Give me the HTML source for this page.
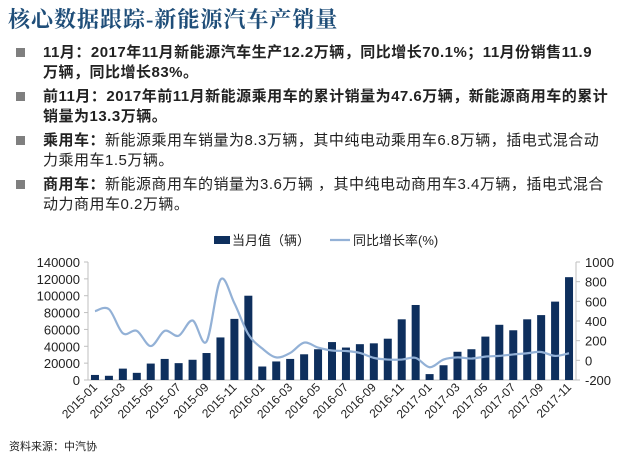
<!DOCTYPE html>
<html><head><meta charset="utf-8">
<style>
body{margin:0;width:640px;height:461px;background:#fff;overflow:hidden;font-family:"Liberation Sans","Noto Sans CJK SC",sans-serif;}
#title{position:absolute;left:8px;top:3px;font-size:22px;font-weight:bold;color:#1f4e79;font-family:"Liberation Serif","Noto Serif CJK SC",serif;letter-spacing:1px}
.b{position:absolute;left:43px;width:570px;font-size:15px;line-height:20px;color:#222;letter-spacing:0.5px}
.sq{position:absolute;left:-27px;top:5px;width:9px;height:9px;background:#7f7f7f}
.bold{font-weight:bold}
#src{position:absolute;left:9px;top:438px;font-size:11px;color:#222}
</style></head><body>
<div id="title">核心数据跟踪-新能源汽车产销量</div>
<div class="b bold" style="top:43px;width:560px"><span class="sq"></span>11月：2017年11月新能源汽车生产12.2万辆，同比增长70.1%；11月份销售11.9万辆，同比增长83%。</div>
<div class="b bold" style="top:87px"><span class="sq"></span>前11月：2017年前11月新能源乘用车的累计销量为47.6万辆，新能源商用车的累计销量为13.3万辆。</div>
<div class="b" style="top:131px"><span class="sq"></span><b>乘用车：</b>新能源乘用车销量为8.3万辆，其中纯电动乘用车6.8万辆，插电式混合动力乘用车1.5万辆。</div>
<div class="b" style="top:175px"><span class="sq"></span><b>商用车：</b>新能源商用车的销量为3.6万辆 ，其中纯电动商用车3.4万辆，插电式混合动力商用车0.2万辆。</div>
<svg id="chart" width="640" height="461" style="position:absolute;left:0;top:0"></svg>
<div id="src">资料来源：中汽协</div>
<script>
const categories=["2015-01","2015-02","2015-03","2015-04","2015-05","2015-06","2015-07","2015-08","2015-09","2015-10","2015-11","2015-12","2016-01","2016-02","2016-03","2016-04","2016-05","2016-06","2016-07","2016-08","2016-09","2016-10","2016-11","2016-12","2017-01","2017-02","2017-03","2017-04","2017-05","2017-06","2017-07","2017-08","2017-09","2017-10","2017-11"];
const monthly=[6000,5000,13500,8500,19500,25000,20000,24000,32000,50500,72500,100000,16000,22000,25000,30500,36500,45000,38500,42500,43500,49000,72000,89000,7000,17500,33500,36500,51500,65500,59000,72000,77000,93000,122000];
const growth=[500,520,275,300,145,300,250,405,190,820,580,265,120,30,75,180,130,100,95,75,25,8,8,25,-70,8,30,18,38,45,60,72,85,45,72];
const leftTicks=[0,20000,40000,60000,80000,100000,120000,140000];
const rightTicks=[-200,0,200,400,600,800,1000];
const svg=document.getElementById('chart');const NS='http://www.w3.org/2000/svg';
const X0=88,X1=576,Y0=380,Y1=262;
const bw=(X1-X0)/categories.length;
const xC=i=>X0+bw*(i+0.5);
const yL=v=>Y0-(v/140000)*(Y0-Y1);
const yR=v=>Y0-((v+200)/1200)*(Y0-Y1);
function mk(t,a,txt){const e=document.createElementNS(NS,t);for(const k in a)e.setAttribute(k,a[k]);if(txt!==undefined)e.textContent=txt;svg.appendChild(e);return e;}
let e=mk('line',{x1:X0,y1:Y1,x2:X0,y2:Y0,stroke:'#bfbfbf'});

e=mk('line',{x1:X1,y1:Y1,x2:X1,y2:Y0,stroke:'#bfbfbf'});

e=mk('line',{x1:X0,y1:Y0,x2:X1,y2:Y0,stroke:'#bfbfbf'});

leftTicks.forEach(v=>{const t=mk('text',{x:X0-8,y:yL(v)+5,'text-anchor':'end','font-size':13,fill:'#222'},v);

mk('line',{x1:X0-4,y1:yL(v),x2:X0,y2:yL(v),stroke:'#bfbfbf'});});
rightTicks.forEach(v=>{const t=mk('text',{x:X1+9,y:yR(v)+5,'text-anchor':'start','font-size':13,fill:'#222'},v);

mk('line',{x1:X1,y1:yR(v),x2:X1+4,y2:yR(v),stroke:'#bfbfbf'});});
monthly.forEach((v,i)=>{const r=mk('rect',{x:xC(i)-4,y:yL(v),width:8,height:Y0-yL(v),fill:'#0e2f5d'});
});
categories.forEach((c,i)=>{if(i%2)return;const x=xC(i)+3,y=Y0+8;
const t=mk('text',{x:x,y:y,'text-anchor':'end','font-size':12,fill:'#222',transform:`rotate(-45 ${x} ${y})`},c);
});
const pts=growth.map((v,i)=>[xC(i),yR(v)]);
let d=`M${pts[0][0]},${pts[0][1]}`;
for(let i=0;i<pts.length-1;i++){const p0=pts[Math.max(0,i-1)],p1=pts[i],p2=pts[i+1],p3=pts[Math.min(pts.length-1,i+2)];
d+=` C${p1[0]+(p2[0]-p0[0])/6},${p1[1]+(p2[1]-p0[1])/6} ${p2[0]-(p3[0]-p1[0])/6},${p2[1]-(p3[1]-p1[1])/6} ${p2[0]},${p2[1]}`;}
e=mk('path',{d:d,fill:'none',stroke:'#93b1d6','stroke-width':2.2});

e=mk('rect',{x:214,y:236,width:16,height:8,fill:'#0e2f5d'});

e=mk('text',{x:232,y:245,'font-size':13,fill:'#222'},'当月值（辆）');

e=mk('line',{x1:330,y1:240,x2:350,y2:240,stroke:'#93b1d6','stroke-width':2.2});

e=mk('text',{x:353,y:245,'font-size':13,fill:'#222'},'同比增长率(%)');

</script>
</body></html>
